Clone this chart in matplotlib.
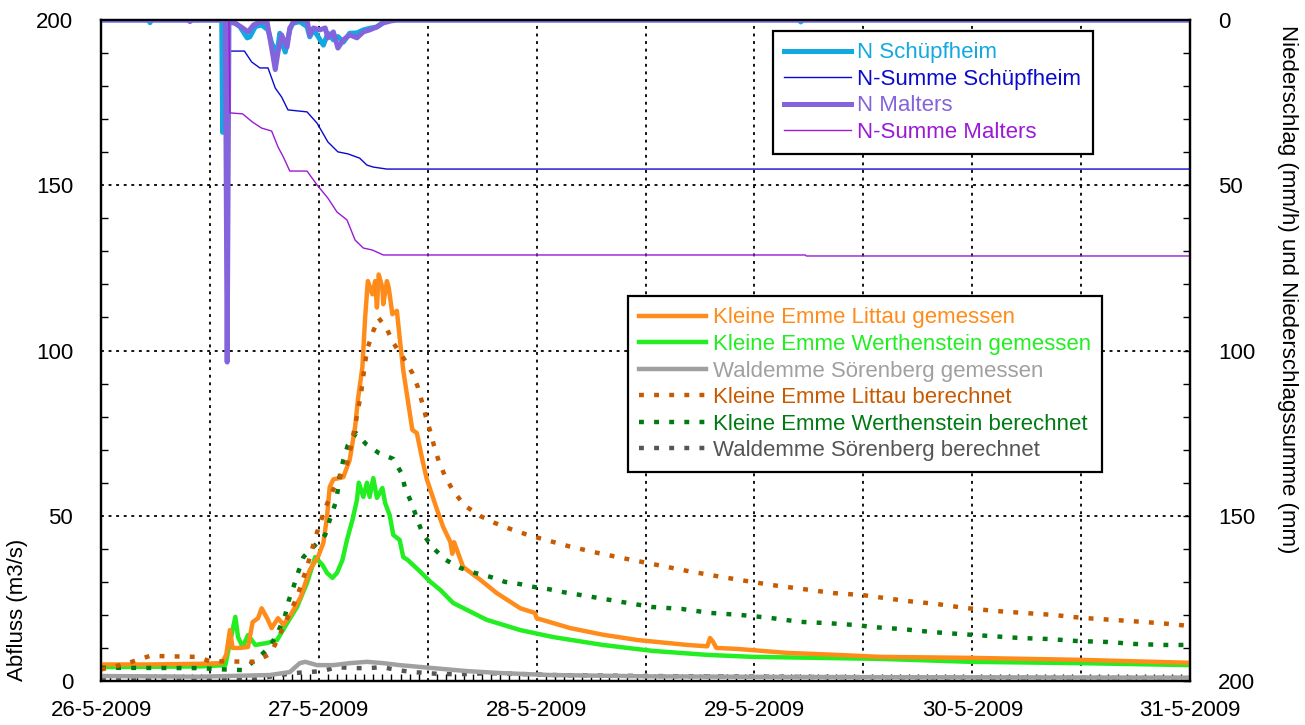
import numpy as np
import matplotlib
matplotlib.use("Agg")
import matplotlib.pyplot as plt
from matplotlib.ticker import MultipleLocator

plt.rcParams['font.family'] = ['Liberation Sans', 'DejaVu Sans']
plt.rcParams['font.size'] = 16

# time axis: hours after 26-5-2009 00:00
day_labels = ['26-5-2009', '27-5-2009', '28-5-2009', '29-5-2009', '30-5-2009', '31-5-2009']

# Abfluss (m3/s)
t_littau = [0, 5.4, 10.9, 13.3, 13.8, 14.2, 14.5, 15.3, 16.2, 16.7, 17.3, 17.7, 18.3, 18.8, 19.5, 20.1,
            21.0, 22.0, 23.0, 23.9, 24.5, 24.9, 25.2, 25.6, 26.7, 27.4, 28.0, 28.3, 28.8, 29.1, 29.4, 29.9,
            30.2, 30.4, 30.6, 31.0, 31.1, 31.5, 31.7, 32.1, 32.6, 32.9, 33.3, 33.8, 34.3, 34.8, 35.4, 35.9,
            37.0, 37.7, 38.5, 38.7, 38.9, 39.9, 41.8, 43.6, 46.2, 47.8, 48.0, 51.7, 55.3, 59.1, 64.6, 66.8,
            67.1, 67.4, 67.8, 70.1, 75.6, 81.1, 85.8, 95.8, 107.9, 120]
q_littau = [5.0, 5.0, 5.2, 5.4, 8, 15.4, 10, 10, 10.3, 17.8, 19, 22, 19, 16, 19, 17,
            20.5, 25.4, 33.6, 37.5, 41.8, 49.6, 58.7, 61, 61.7, 66.9, 76.9, 85, 95, 110, 121, 117,
            121, 113, 123, 119, 114, 121, 119, 111, 112, 104, 94, 85, 76, 75, 67, 61,
            52, 46.6, 42, 38.5, 42, 34.5, 30.6, 26.6, 22, 20.6, 19, 16, 14, 12.4, 10.9, 10.5,
            13, 12, 10, 9.7, 8.5, 7.9, 7.3, 7.0, 6.4, 5.5]

t_werth = [0, 10.9, 13.7, 14.2, 14.8, 15.1, 15.6, 16.2, 17.0, 18.3, 19.4, 20.5, 21.6, 22.7, 23.6,
           24.4, 24.9, 25.5, 26.0, 26.6, 27.1, 27.7, 28.2, 28.4, 28.9, 29.3, 29.6, 30.0, 30.4, 31.0,
           31.3, 31.8, 32.2, 32.9, 33.3, 33.8, 35.2, 36.3, 37.4, 38.8, 39.6, 42.5, 46.2, 49.8, 55.3,
           60.8, 66.8, 71.8, 85.8, 95.8, 107.9, 120]
q_werth = [4.2, 4.4, 4.8, 11.5, 19.4, 13.3, 10.3, 13.9, 10.9, 11.5, 12.4, 17.5, 22.4, 29.7, 37.5,
           35.1, 32.7, 31.2, 32.7, 36.6, 42.7, 48.7, 54.8, 60, 55.7, 60, 55.7, 61.4, 55.4, 58.4,
           53.9, 50.2, 44.2, 42.7, 37.5, 36.6, 33, 30, 27.5, 23.6, 22.5, 18.5, 15.4, 13.3, 10.9,
           9.1, 7.9, 7.3, 6.7, 5.8, 5.4, 4.8]

t_soren = [0, 10.9, 18.6, 20.8, 21.9, 22.5, 23.8, 25.6, 27.4, 29.3, 31.1, 32.9, 36.6, 40.3, 44.0,
           49.5, 60.5, 77.0, 99.1, 120]
q_soren = [1.5, 1.3, 1.8, 2.7, 5.4, 5.8, 4.8, 4.8, 5.4, 5.8, 5.4, 4.8, 3.9, 3.0, 2.4,
           1.8, 1.4, 1.2, 1.1, 1.0]

t_littau_b = [0, 2.6, 5.4, 10.5, 12.0, 17.0, 18.4, 18.8, 20.8, 21.6, 22.7, 23.6, 24.7, 25.6, 27.1,
              27.5, 28.1, 28.7, 29.1, 29.4, 30.0, 30.6, 31.5, 32.2, 33.4, 34.3, 34.9, 35.4, 35.8, 36.3,
              36.7, 37.2, 37.9, 38.8, 40.1, 41.8, 43.4, 45.1, 46.7, 48.2, 51.5, 54.8, 58.0, 61.3, 64.6,
              67.7, 71.0, 74.0, 77.4, 80.7, 83.9, 88.8, 92.1, 95.2, 98.5, 101.6, 104.9, 108.1, 111.4,
              114.7, 118.0, 120]
q_littau_b = [3.5, 5.1, 7.6, 7.3, 6.0, 5.8, 7.9, 8.8, 20.6, 25.4, 34.5, 43.3, 52.3, 58, 65.7,
              70.5, 78.7, 88, 96.5, 101, 105.9, 109.8, 106.5, 102.3, 97.4, 93.2, 89, 84.1, 79.9, 75.3,
              71.1, 66.6, 62, 57.5, 53, 49.9, 47.8, 46, 44.5, 43.3, 40.8, 38.7, 36.9, 35.1, 33.3,
              31.8, 30.3, 29, 27.8, 26.6, 26.0, 24.2, 23.3, 22.1, 21.2, 20.6, 20, 19.1, 18.5,
              17.9, 17.2, 16.6]

t_werth_b = [0, 10.9, 12.6, 15.6, 17.3, 18.6, 19.5, 20.3, 20.7, 21.2, 21.7, 22.3, 24.7, 25.2, 25.8,
             26.1, 26.3, 26.7, 27.2, 28.1, 29.2, 30.6, 32.2, 33.1, 33.5, 34.2, 34.8, 35.4, 36.5, 38.0,
             39.6, 41.2, 42.9, 44.5, 46.2, 47.8, 49.3, 50.9, 54.2, 57.4, 60.7, 64.0, 67.1, 70.4, 73.7,
             77.0, 80.1, 83.3, 85.1, 88.3, 91.6, 94.7, 98.0, 101.3, 104.4, 107.5, 110.9, 113.9, 117.2, 120]
q_werth_b = [4.0, 3.9, 3.6, 3.3, 7.0, 10.3, 14.8, 20.0, 24.5, 28.4, 32.7, 37.5, 44.2, 48.7, 53.6,
             57.8, 62.0, 66.9, 71.4, 75.0, 71.7, 69.0, 67.2, 62.9, 58.4, 53.9, 49.3, 44.8, 40.5, 36.6,
             34.2, 32.7, 31.5, 30.0, 29.3, 28.4, 27.8, 26.9, 25.4, 23.9, 22.4, 21.8, 20.6, 20.0, 19.1,
             17.9, 17.5, 16.9, 16.3, 15.7, 14.8, 14.2, 13.6, 13.0, 12.7, 12.1, 11.8, 11.2, 10.9, 10.9]

t_soren_b = [0, 16.5, 19.0, 21.3, 24.4, 26.0, 27.8, 29.5, 31.0, 32.6, 34.4, 37.4, 40.7, 42.5,
             50, 60, 80, 100, 120]
q_soren_b = [0.4, 0.3, 1.5, 2.4, 3.0, 4.2, 3.9, 3.9, 4.2, 3.3, 2.7, 2.1, 2.1, 2.4,
             1.8, 1.5, 1.2, 1.0, 0.9]

# Niederschlag (mm/h) und Niederschlagssumme (mm)
t_n_schuepf = [0, 5.3, 5.4, 5.5, 13.3, 13.4, 13.5, 13.8, 14.8, 15.3, 16.1, 16.4, 17.0, 17.7, 18.4,
               18.8, 19.4, 19.7, 19.9, 20.3, 20.8, 21.1, 21.9, 22.7, 23.0, 23.4, 23.8, 24.5, 25.0, 25.6,
               26.1, 26.7, 27.4, 28.2, 28.9, 29.6, 30.4, 31.1, 31.9, 77.0, 77.1, 77.2, 120]
n_schuepf = [0, 0, 0.8, 0, 0, 34, 0, 0.5, 1, 2, 5.4, 5.1, 2, 1.5, 3,
             7, 10, 4, 6.7, 9.7, 3, 1, 0.5, 2, 5.1, 3, 4.5, 7.6, 4, 6,
             5, 6.7, 4, 3.9, 3, 2.5, 2.1, 0.6, 0, 0, 0.6, 0, 0]

t_n_malters = [0, 9.7, 9.8, 9.9, 13.7, 13.9, 14.1, 14.8, 15.6, 16.2, 16.8, 17.5, 18.3, 18.8, 19.2,
               19.5, 19.9, 20.5, 20.8, 21.4, 22.7, 23.0, 23.4, 24.1, 24.7, 25.0, 25.6, 26.1, 26.7, 27.4,
               28.2, 28.9, 29.6, 30.4, 31.1, 31.9, 32.6, 120]
n_malters = [0, 0, 0.5, 0, 0, 103.5, 0, 1, 2.4, 3.6, 1.5, 0.6, 0.6, 8.5, 15,
             9.7, 4.5, 8.2, 2.4, 0, 0, 4.5, 2.4, 3, 2.4, 5.4, 3.6, 8.5, 6, 4.5,
             5.4, 3.6, 3, 2.1, 0.9, 0.3, 0, 0]

t_sum_schuepf = [0, 13.8, 13.9, 15.8, 16.6, 17.5, 18.4, 19.2, 19.9, 20.6, 22.7, 23.8, 25.0, 26.1,
                 27.2, 28.5, 29.3, 30.0, 31.5, 120]
sum_schuepf = [0, 0, 9.4, 9.4, 12.7, 14.5, 14.5, 20.6, 23.3, 27.2, 27.8, 31.2, 36.9, 39.9,
               40.5, 41.8, 43.9, 44.5, 45.1, 45.1]

t_sum_malters = [0, 14.1, 14.2, 15.6, 16.7, 17.7, 18.8, 19.5, 20.1, 20.8, 22.7, 23.8, 25.0, 26.0,
                 27.1, 28.0, 28.9, 29.9, 31.1, 77.6, 77.7, 120]
sum_malters = [0, 0, 28.1, 28.4, 30.9, 32.7, 33.6, 38.4, 41.5, 45.7, 45.7, 49.9, 53.9, 58.1,
               60.5, 66.6, 69.0, 69.6, 71.1, 71.1, 71.4, 71.4]

fig = plt.figure(figsize=(13.05, 7.25), dpi=100)
ax = fig.add_axes([0.0774, 0.0607, 0.912 - 0.0774, 0.9724 - 0.0607])

dots = (0, (1.1, 2.3))
lw = 3.2
ax.plot(t_soren_b, q_soren_b, color='#555555', lw=lw, ls=dots, label='Waldemme Sörenberg berechnet', zorder=3)
ax.plot(t_soren, q_soren, color='#a0a0a0', lw=lw, label='Waldemme Sörenberg gemessen', zorder=3)
ax.plot(t_werth, q_werth, color='#22ee22', lw=lw, label='Kleine Emme Werthenstein gemessen', zorder=3)
ax.plot(t_littau, q_littau, color='#ff8c1a', lw=lw, label='Kleine Emme Littau gemessen', zorder=3)
ax.plot(t_werth_b, q_werth_b, color='#007a12', lw=lw, ls=dots, label='Kleine Emme Werthenstein berechnet', zorder=4)
ax.plot(t_littau_b, q_littau_b, color='#c85a00', lw=lw, ls=dots, label='Kleine Emme Littau berechnet', zorder=4)

ax.set_xlim(0, 120)
ax.set_ylim(0, 200)
xlabels = []
for i in range(11):
    xlabels.append(day_labels[i // 2] if i % 2 == 0 else '')
ax.set_xticks(np.arange(0, 121, 12))
ax.set_xticklabels(xlabels)
ax.xaxis.set_minor_locator(MultipleLocator(1))
ax.yaxis.set_major_locator(MultipleLocator(50))
ax.yaxis.set_minor_locator(MultipleLocator(10))
ax.tick_params(axis='both', which='both', direction='in', top=False)
ax.tick_params(axis='both', which='major', length=0)
ax.tick_params(axis='both', which='minor', length=5, width=1)
ax.tick_params(axis='y', pad=20)
ax.tick_params(axis='x', pad=14)
ax.grid(True, which='major', color='black', ls=(0, (1.6, 2.6)), lw=1.3)
for s in ax.spines.values():
    s.set_linewidth(1.6)

ax.set_ylabel('Abfluss (m3/s)', rotation=90, ha='left', va='center')
ax.yaxis.set_label_coords(-0.077, 0.0)

ax2 = ax.twinx()
ax2.plot(t_n_schuepf, n_schuepf, color='#12a8e0', lw=3.6, label='N Schüpfheim')
ax2.plot(t_sum_schuepf, sum_schuepf, color='#0a0acc', lw=1, label='N-Summe Schüpfheim')
ax2.plot(t_n_malters, n_malters, color='#8464dc', lw=3.6, label='N Malters')
ax2.plot(t_sum_malters, sum_malters, color='#9a1ad6', lw=1, label='N-Summe Malters')
ax2.set_ylim(200, 0)
ax2.set_xlim(0, 120)
ax2.yaxis.set_major_locator(MultipleLocator(50))
ax2.yaxis.set_minor_locator(MultipleLocator(10))
ax2.tick_params(axis='y', which='both', direction='in', pad=20)
ax2.tick_params(axis='y', which='both', length=5, width=1)
for s in ax2.spines.values():
    s.set_linewidth(1.6)
ax2.set_ylabel('Niederschlag (mm/h) und Niederschlagssumme (mm)', rotation=270, ha='left', va='center')
ax2.yaxis.set_label_coords(1.089, 0.993)

leg_kw = dict(loc='upper left', borderaxespad=0, fancybox=False, edgecolor='black', framealpha=1,
              handlelength=3.0, handletextpad=0.3, labelspacing=0.25, borderpad=0.5,
              labelcolor='linecolor', fontsize=16)

h1, l1 = ax2.get_legend_handles_labels()
leg1 = ax2.legend(h1, l1, bbox_to_anchor=(0.617, 0.983), **leg_kw)
leg1.get_frame().set_linewidth(1.6)

order = ['Kleine Emme Littau gemessen', 'Kleine Emme Werthenstein gemessen', 'Waldemme Sörenberg gemessen',
         'Kleine Emme Littau berechnet', 'Kleine Emme Werthenstein berechnet', 'Waldemme Sörenberg berechnet']
h2, l2 = ax.get_legend_handles_labels()
hmap = dict(zip(l2, h2))
leg2 = ax2.legend([hmap[k] for k in order], order, bbox_to_anchor=(0.484, 0.582), **leg_kw)
leg2.get_frame().set_linewidth(1.6)
ax2.add_artist(leg1)

plt.savefig('out.png', dpi=100)
